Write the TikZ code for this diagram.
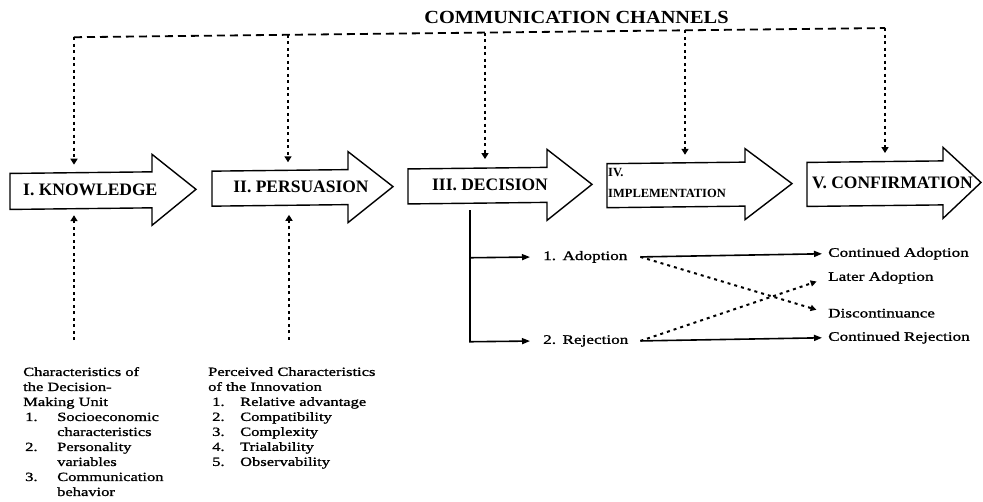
\documentclass[tikz,border=0pt]{standalone}
\usepackage{fontspec}
\setmainfont{Liberation Serif}
\newfontfamily\widefont[FakeStretch=1.32,FakeBold=1.2]{Liberation Serif}
\newfontfamily\titlefont[FakeStretch=1.1]{Liberation Serif}
\usetikzlibrary{arrows.meta}

% block arrow: tail x, head base x, tip x, body half height, centre y
\newcommand\stagearrow[5]{%
  \draw[stage] (#1,#5-#4) -- (#2,#5-#4) -- (#2,#5-35.5) -- (#3,#5)
    -- (#2,#5+35.5) -- (#2,#5+#4) -- (#1,#5+#4) -- cycle;}

\tikzset{
  stage/.style={draw=black, line width=1.4pt, fill=white, line join=miter},
  stagelabel/.style={font=\fontsize{17.5}{20}\selectfont\bfseries, inner sep=0pt},
  channel/.style={line width=1.8pt, dash pattern=on 8pt off 5pt},
  chanlink/.style={line width=2.2pt, dash pattern=on 3pt off 3.5pt,
    -{Triangle[length=6pt,width=7pt]}},
  branch/.style={line width=1.6pt, -{Triangle[length=8pt,width=6pt]}},
  switchpath/.style={line width=2pt, dash pattern=on 3pt off 4pt,
    -{Triangle[length=6pt,width=6pt]}},
  outcome/.style={font=\widefont\fontsize{13}{15}\selectfont, inner sep=0pt, anchor=west},
  factors/.style={font=\widefont\fontsize{12.5}{15}\selectfont, inner sep=0pt,
    anchor=north west},
}

\begin{document}
\begin{tikzpicture}[x=1pt,y=-1pt]
\useasboundingbox (0,0) rectangle (983,501);
\fill[white] (0,0) rectangle (983,501);
\begin{scope}[yslant=0.0113, yshift=-5.55pt]

% heading and the channel line
\node[font=\titlefont\fontsize{18.5}{22}\selectfont\bfseries, inner sep=0pt]
  (title) at (576.5,18) {COMMUNICATION CHANNELS};
\coordinate (ch1) at (74,32.5);
\coordinate (ch2) at (288,32.5);
\coordinate (ch3) at (485,32.5);
\coordinate (ch4) at (685,32.5);
\coordinate (ch5) at (885,32.5);
\draw[channel] (ch1) -- (ch5);

% the five stages
\stagearrow{10}{152}{196}{18}{186}
\stagearrow{212}{348}{393}{17.5}{185.5}
\stagearrow{408}{547}{592}{17.5}{185.5}
\stagearrow{607}{745}{792}{22}{187}
\stagearrow{807}{943}{981}{22}{188}

\node[stagelabel, anchor=west] (know) at (23,185) {I. KNOWLEDGE};
\node[stagelabel] (pers) at (301,185) {II. PERSUASION};
\node[stagelabel] (dec) at (490,185) {III. DECISION};
\node[stagelabel, anchor=west, align=left, font=\fontsize{12.5}{21}\selectfont\bfseries]
  (impl) at (608,184.5) {IV.\\IMPLEMENTATION};
\node[stagelabel] (conf) at (892.5,187) {V. CONFIRMATION};

% channels reaching each stage
\coordinate (know-in) at (74,160);
\coordinate (pers-in) at (288,160);
\coordinate (dec-in) at (485,159);
\coordinate (impl-in) at (685,157);
\coordinate (conf-in) at (885,157.5);
\draw[chanlink] (ch1) -- (know-in);
\draw[chanlink] (ch2) -- (pers-in);
\draw[chanlink] (ch3) -- (dec-in);
\draw[chanlink] (ch4) -- (impl-in);
\draw[chanlink] (ch5) -- (conf-in);

% prior conditions feeding the first two stages
\node[factors] (unit) at (23,360) {%
  \begin{tabular}{@{}p{34pt}@{}l@{}}
  \multicolumn{2}{@{}l@{}}{Characteristics of}\\
  \multicolumn{2}{@{}l@{}}{the Decision-}\\
  \multicolumn{2}{@{}l@{}}{Making Unit}\\
  \hspace*{2pt}1. & Socioeconomic\\
   & characteristics\\
  \hspace*{2pt}2. & Personality\\
   & variables\\
  \hspace*{2pt}3. & Communication\\
   & behavior
  \end{tabular}};
\node[factors] (innov) at (208,362) {%
  \begin{tabular}{@{}p{32pt}@{}l@{}}
  \multicolumn{2}{@{}l@{}}{Perceived Characteristics}\\
  \multicolumn{2}{@{}l@{}}{of the Innovation}\\
  \hspace*{4pt}1. & Relative advantage\\
  \hspace*{4pt}2. & Compatibility\\
  \hspace*{4pt}3. & Complexity\\
  \hspace*{4pt}4. & Trialability\\
  \hspace*{4pt}5. & Observability
  \end{tabular}};
\coordinate (unit-up) at (74,335.5);
\coordinate (know-out) at (74,210.5);
\coordinate (innov-up) at (289,337.5);
\coordinate (pers-out) at (289,212.5);
\draw[chanlink] (unit-up) -- (know-out);
\draw[chanlink] (innov-up) -- (pers-out);

% decision outcomes
\node[outcome, text width=97pt, align=left] (adopt) at (543,257.5) {1. Adoption};
\node[outcome, text width=97pt, align=left] (rej) at (543,341.5) {2. Rejection};
\node[outcome] (cadopt) at (828,257.5) {Continued Adoption};
\node[outcome] (later) at (828,281.5) {Later Adoption};
\node[outcome] (disc) at (828,317) {Discontinuance};
\node[outcome] (crej) at (828,341.5) {Continued Rejection};

\coordinate (dec-out) at (470,210);
\draw[branch, shorten >=13pt] (dec-out) |- (rej.west);
\draw[branch, shorten >=13pt] (dec-out |- adopt.west) -- (adopt.west);
\draw[branch, shorten >=6pt] (adopt.east) -- (cadopt.west);
\draw[branch, shorten >=6pt] (rej.east) -- (crej.west);
\draw[switchpath, shorten >=12pt] (adopt.east) -- (disc.west);
\draw[switchpath, shorten >=12pt] (rej.east) -- (later.west);

\end{scope}
\end{tikzpicture}
\end{document}
